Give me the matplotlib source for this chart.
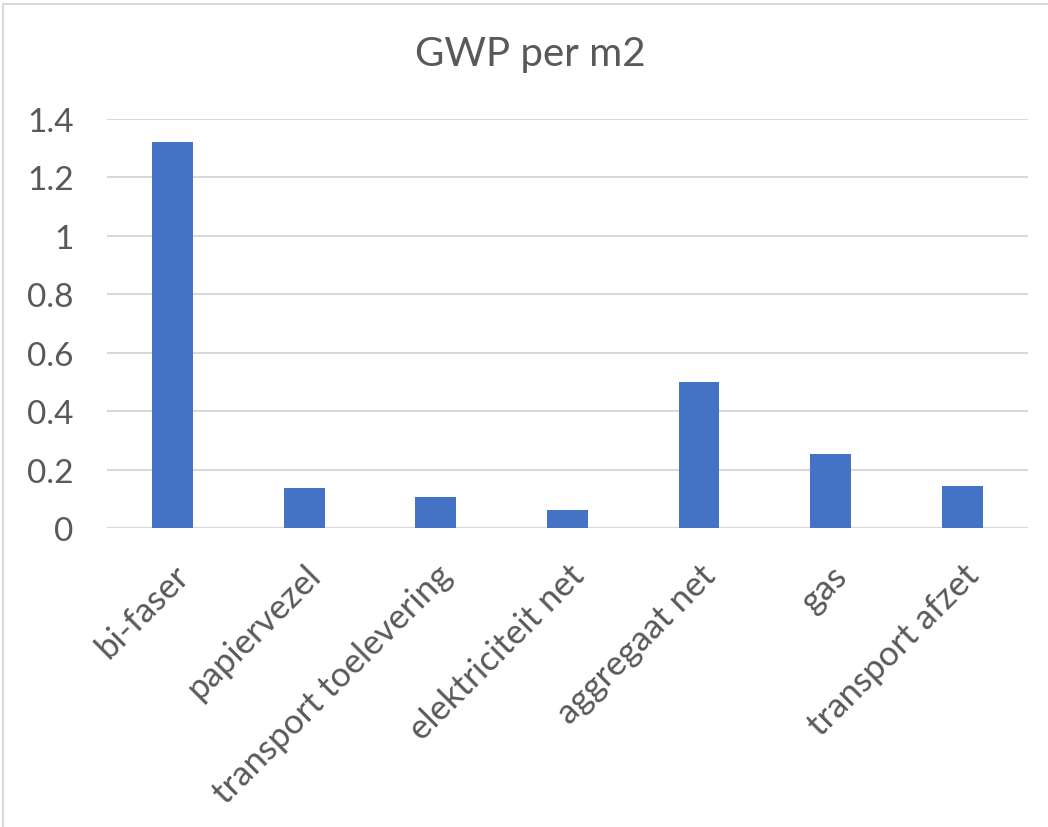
import matplotlib
matplotlib.use("Agg")
import matplotlib.pyplot as plt
from matplotlib.patches import Rectangle
import numpy as np

# data
categories = ["bi-faser", "papiervezel", "transport toelevering", "elektriciteit net",
              "aggregaat net", "gas", "transport afzet"]
values = [1.323, 0.137, 0.105, 0.061, 0.499, 0.254, 0.145]
yticks = [0, 0.2, 0.4, 0.6, 0.8, 1, 1.2, 1.4]
ytick_labels = ["0", "0.2", "0.4", "0.6", "0.8", "1", "1.2", "1.4"]

plt.rcParams['font.family'] = ['Lato', 'DejaVu Sans']
text_col = "#595959"
grid_col = "#d9d9d9"

fig = plt.figure(figsize=(10.48, 8.28), dpi=100)
ax = fig.add_axes([0.102, 0.361, 0.879, 0.494])

x = np.arange(len(categories))
ax.bar(x, values, width=0.31, color="#4472C4", zorder=3)

ax.set_xlim(-0.5, len(categories) - 0.5)
ax.set_ylim(0, 1.4)
ax.set_yticks(yticks, labels=ytick_labels)
ax.yaxis.grid(True, color=grid_col, linewidth=1.5, zorder=0)
ax.set_xticks(x, labels=categories, rotation=45, ha='right', rotation_mode='anchor')

for s in ax.spines.values():
    s.set_visible(False)
ax.axhline(0, color=grid_col, linewidth=1.5, zorder=1)
ax.tick_params(axis='both', length=0, colors=text_col)
ax.tick_params(axis='y', pad=24, labelsize=24)
ax.tick_params(axis='x', pad=22, labelsize=25)

fig.text(0.506, 0.934, "GWP per m2", ha='center', va='center', fontsize=29, color=text_col)

# outer chart border
fig.patches.append(Rectangle((0.003, -0.01), 1.5, 1.004, transform=fig.transFigure,
                             fill=False, edgecolor=grid_col, linewidth=1.5))

plt.savefig("out.png", dpi=100)
